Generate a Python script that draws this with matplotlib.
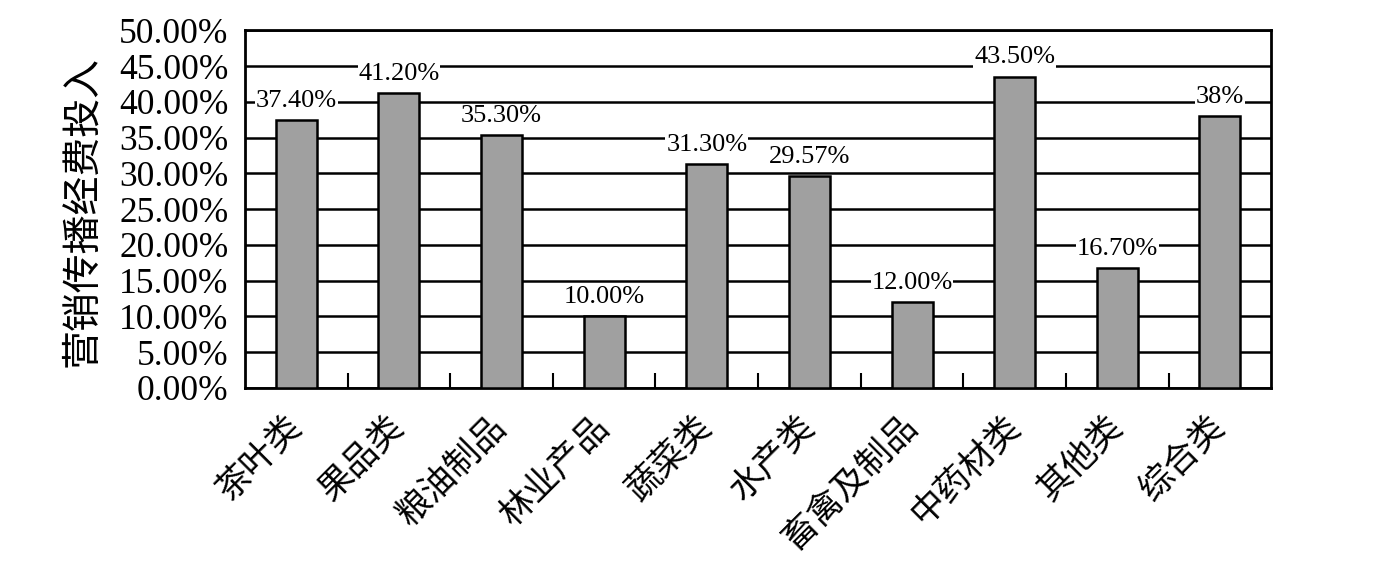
import numpy as np
import matplotlib
matplotlib.use("Agg")
import matplotlib.pyplot as plt
from matplotlib.ticker import FixedLocator, PercentFormatter

# data
categories = ["茶叶类", "果品类", "粮油制品", "林业产品", "蔬菜类", "水产类",
              "畜禽及制品", "中药材类", "其他类", "综合类"]
values = [37.40, 41.20, 35.30, 10.00, 31.30, 29.57, 12.00, 43.50, 16.70, 38.00]
value_labels = ["37.40%", "41.20%", "35.30%", "10.00%", "31.30%", "29.57%",
                "12.00%", "43.50%", "16.70%", "38%"]
y_ticks = np.arange(0, 50.1, 5)

cjk = ["Noto Sans CJK SC", "DejaVu Sans"]
serif = ["Liberation Serif", "DejaVu Serif"]

fig = plt.figure(figsize=(14, 5.77), dpi=100)
ax = fig.add_axes([0.175, 0.3276, 0.733, 0.62])

x = np.arange(len(categories))
ax.bar(x, values, width=0.4, color="#a0a0a0", edgecolor="black", linewidth=1.8, zorder=3)

ax.set_xlim(-0.5, len(categories) - 0.5)
ax.set_ylim(0, 50)

# horizontal grid
ax.set_yticks(y_ticks)
ax.yaxis.grid(True, color="black", linewidth=1.8, zorder=0)
ax.set_axisbelow(True)
ax.yaxis.set_major_formatter(PercentFormatter(decimals=2))
ax.tick_params(axis="y", length=0, pad=12, labelsize=25.5)
for t in ax.get_yticklabels():
    t.set_fontfamily(serif)

# category ticks: labels only, small boundary marks inside
ax.set_xticks(x)
ax.set_xticklabels(categories, fontfamily=cjk, fontsize=25, rotation=45,
                   ha="right", va="center", rotation_mode="anchor")
ax.tick_params(axis="x", which="major", length=0, pad=24)
ax.xaxis.set_minor_locator(FixedLocator(x[:-1] + 0.5))
ax.tick_params(axis="x", which="minor", direction="in", length=11, width=1.5)

for s in ax.spines.values():
    s.set_linewidth(2)
    s.set_color("black")

for xi, v, lab in zip(x, values, value_labels):
    ax.annotate(lab, (xi, v), xytext=(0, 6), textcoords="offset points",
                ha="center", va="bottom", fontsize=19, fontfamily=serif,
                bbox=dict(facecolor="white", edgecolor="none", pad=0.5), zorder=4)

fig.text(0.059, 0.633, "营销传播经费投入", rotation=90, fontfamily=cjk, fontsize=28,
         ha="center", va="center")

fig.savefig("out.png", dpi=100, facecolor="white")
